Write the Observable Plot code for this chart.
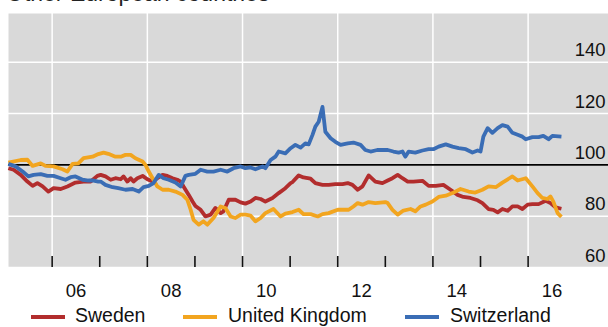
<!DOCTYPE html>
<html>
<head>
<meta charset="utf-8">
<script src="https://cdn.jsdelivr.net/npm/d3@7"></script>
<script src="https://cdn.jsdelivr.net/npm/@observablehq/plot@0.6"></script>
<style>
  html, body { margin: 0; padding: 0; background: #fff; }
  #wrap { position: relative; width: 608px; height: 327px; overflow: hidden; font-family: "Liberation Sans", Arial, sans-serif; color: #111; }
  #title { position: absolute; left: 6px; top: -18px; font-size: 23px; line-height: 23px; white-space: nowrap; color: #222; }
  #chart { position: absolute; left: 0; top: 0; }
  .lg { position: absolute; top: 304px; height: 22px; font-size: 19.5px; line-height: 22px; white-space: nowrap; }
  .sw { position: absolute; width: 34px; height: 4px; }
</style>
</head>
<body>
<div id="wrap">
  <div id="title"></div>
  <div id="chart"></div>
  <div id="legend"></div>
</div>
<script>
const titleText = "Other European countries";
const seriesNames = ["Sweden", "United Kingdom", "Switzerland"];
const seriesColors = ["#b22d2d", "#f2a51f", "#3a6db5"];
const yTicks = [60, 80, 100, 120, 140];
const yearTicks = [2006, 2007, 2008, 2009, 2010, 2011, 2012, 2013, 2014, 2015, 2016];
const gridYears = [2006, 2008, 2010, 2012, 2014, 2016];
const yearLabels = ["06", "08", "10", "12", "14", "16"];

const sweden = [
  [2005.08,98.7],[2005.19,98.1],[2005.34,96.1],[2005.48,93.5],[2005.59,91.8],[2005.69,92.9],[2005.80,91.6],[2005.92,89.6],
  [2006.03,90.9],[2006.18,90.6],[2006.32,91.6],[2006.49,93.1],[2006.66,93.5],[2006.81,93.5],[2006.95,95.7],
  [2007.02,96.1],[2007.12,95.5],[2007.23,94.2],[2007.33,94.8],[2007.44,94.4],[2007.50,95.5],[2007.58,93.5],[2007.65,94.8],[2007.71,93.5],[2007.79,94.8],[2007.90,95.7],
  [2008.00,94.4],[2008.11,93.5],[2008.21,94.8],[2008.32,96.1],[2008.42,95.7],[2008.53,94.8],[2008.63,94.2],[2008.70,93.5],[2008.76,91.6],[2008.87,88.3],[2008.95,85.7],
  [2009.01,84.0],[2009.12,82.5],[2009.22,79.9],[2009.33,80.6],[2009.43,83.2],[2009.54,81.2],[2009.60,81.9],[2009.71,86.4],[2009.85,86.4],[2009.96,85.4],
  [2010.06,84.9],[2010.17,85.7],[2010.27,87.1],[2010.38,86.7],[2010.48,85.7],[2010.63,87.1],[2010.76,89.0],[2010.90,90.9],
  [2011.01,92.9],[2011.05,93.3],[2011.18,95.9],[2011.28,95.1],[2011.43,94.6],[2011.53,92.9],[2011.68,92.2],[2011.81,92.2],[2011.95,92.5],
  [2012.10,92.5],[2012.21,92.9],[2012.31,92.2],[2012.42,90.3],[2012.52,91.6],[2012.65,95.9],[2012.79,93.5],[2012.94,92.9],
  [2013.05,93.9],[2013.15,94.8],[2013.26,96.1],[2013.36,94.8],[2013.47,93.5],[2013.59,93.5],[2013.78,93.8],[2013.91,91.8],
  [2014.06,91.8],[2014.22,92.2],[2014.37,90.3],[2014.52,88.3],[2014.64,87.5],[2014.79,87.1],[2014.94,86.2],
  [2015.04,85.1],[2015.17,82.8],[2015.27,82.5],[2015.36,81.5],[2015.46,82.8],[2015.57,82.1],[2015.67,83.8],[2015.78,83.8],[2015.88,82.8],[2015.99,84.5],
  [2016.09,84.7],[2016.22,84.7],[2016.37,86.0],[2016.47,85.1],[2016.58,83.4],[2016.70,82.9]
];

const unitedKingdom = [
  [2005.08,100.9],[2005.34,101.9],[2005.48,102.0],[2005.59,99.6],[2005.76,100.6],[2005.86,99.6],
  [2006.03,99.4],[2006.22,98.3],[2006.32,97.4],[2006.43,100.4],[2006.55,100.6],[2006.66,102.6],[2006.85,103.2],[2006.97,104.2],
  [2007.08,104.8],[2007.18,104.3],[2007.33,103.2],[2007.44,103.2],[2007.54,103.9],[2007.65,103.9],[2007.75,102.6],[2007.90,101.3],[2007.96,100.0],
  [2008.03,97.4],[2008.11,94.8],[2008.21,91.6],[2008.32,90.3],[2008.45,90.3],[2008.59,89.6],[2008.74,88.3],[2008.84,86.4],[2008.91,82.5],[2008.97,78.6],
  [2009.08,76.7],[2009.18,78.0],[2009.26,76.7],[2009.39,79.3],[2009.54,83.8],[2009.64,83.2],[2009.75,79.9],[2009.85,79.3],[2009.96,80.6],
  [2010.06,80.6],[2010.17,80.2],[2010.27,78.0],[2010.38,79.3],[2010.48,81.2],[2010.65,82.8],[2010.80,79.9],[2010.90,81.0],
  [2011.05,81.6],[2011.18,82.5],[2011.28,80.8],[2011.43,80.8],[2011.58,79.9],[2011.68,80.8],[2011.81,81.2],
  [2012.00,82.5],[2012.12,82.5],[2012.23,82.5],[2012.33,83.8],[2012.42,85.1],[2012.52,84.5],[2012.65,85.5],[2012.79,85.1],
  [2013.00,85.5],[2013.05,85.1],[2013.15,82.5],[2013.26,80.6],[2013.38,82.2],[2013.53,82.8],[2013.63,81.9],[2013.74,83.8],[2013.85,84.5],[2013.99,85.7],
  [2014.12,87.5],[2014.27,88.0],[2014.41,89.0],[2014.58,90.6],[2014.75,89.6],[2014.89,89.2],
  [2015.04,90.3],[2015.17,91.6],[2015.32,91.3],[2015.46,93.1],[2015.67,95.5],[2015.78,93.9],[2015.95,94.8],
  [2016.09,91.6],[2016.20,89.0],[2016.30,87.1],[2016.41,86.7],[2016.47,87.7],[2016.53,85.7],[2016.62,81.2],[2016.70,79.7]
];

const switzerland = [
  [2005.08,100.4],[2005.23,99.4],[2005.38,97.4],[2005.50,95.5],[2005.61,96.1],[2005.76,96.4],[2005.90,95.7],
  [2006.03,95.7],[2006.18,94.8],[2006.28,94.2],[2006.39,95.2],[2006.49,95.5],[2006.64,94.2],[2006.76,93.9],[2006.87,93.9],[2006.97,93.5],
  [2007.02,93.5],[2007.12,92.2],[2007.27,91.3],[2007.39,90.9],[2007.54,90.3],[2007.69,90.6],[2007.82,89.6],[2007.92,91.3],
  [2008.03,91.8],[2008.13,92.9],[2008.24,96.1],[2008.34,94.8],[2008.45,94.2],[2008.59,93.1],[2008.70,91.6],[2008.80,95.7],[2008.87,96.1],
  [2009.01,96.5],[2009.12,98.1],[2009.26,97.4],[2009.39,97.4],[2009.54,98.1],[2009.68,97.4],[2009.81,98.7],[2009.96,99.4],
  [2010.06,98.7],[2010.17,99.0],[2010.27,98.3],[2010.42,99.4],[2010.48,98.7],[2010.59,101.9],[2010.69,103.2],[2010.76,105.2],[2010.90,104.5],
  [2011.01,106.5],[2011.11,107.8],[2011.22,106.7],[2011.32,108.4],[2011.39,108.0],[2011.47,111.7],[2011.53,114.9],[2011.60,116.8],[2011.68,122.6],[2011.74,112.9],[2011.85,110.4],[2011.95,109.0],
  [2012.06,107.8],[2012.21,108.4],[2012.33,108.7],[2012.48,107.8],[2012.58,105.8],[2012.69,105.2],[2012.83,105.8],
  [2013.00,105.8],[2013.05,105.8],[2013.17,105.2],[2013.28,104.8],[2013.36,105.2],[2013.42,103.2],[2013.49,105.2],[2013.63,104.8],[2013.78,105.6],[2013.91,106.1],
  [2014.01,106.1],[2014.12,107.1],[2014.27,108.0],[2014.41,107.1],[2014.54,106.5],[2014.69,106.1],[2014.83,104.8],[2014.94,105.6],
  [2015.00,105.2],[2015.06,111.0],[2015.15,114.3],[2015.25,112.5],[2015.36,114.3],[2015.46,115.5],[2015.57,114.9],[2015.67,112.5],[2015.78,111.7],[2015.88,111.0],[2015.95,110.0],
  [2016.09,110.8],[2016.22,110.8],[2016.32,111.3],[2016.43,110.0],[2016.51,111.3],[2016.70,111.0]
];

const allSeries = [sweden, unitedKingdom, switzerland];
const rows = allSeries.flatMap((s, i) => s.map(([t, v]) => ({t, v, name: seriesNames[i]})));

document.getElementById("title").textContent = titleText;

const chart = Plot.plot({
  width: 608,
  height: 300,
  marginTop: 13,
  marginBottom: 33,
  marginLeft: 8,
  marginRight: 0,
  style: {fontFamily: "Liberation Sans, Arial, sans-serif", fontSize: "18.5px", color: "#111", background: "transparent"},
  x: {domain: [2005.083, 2017.689], axis: null},
  y: {domain: [60, 159], axis: null},
  color: {domain: seriesNames, range: seriesColors},
  marks: [
    Plot.frame({fill: "#d9d9d9", stroke: null}),
    Plot.ruleY(yTicks, {stroke: "white", strokeWidth: 1.5}),
    Plot.ruleX(gridYears, {stroke: "white", strokeWidth: 1.5}),
    Plot.ruleY([100], {stroke: "black", strokeWidth: 1.6}),
    Plot.line(rows, {x: "t", y: "v", z: "name", stroke: "name", strokeWidth: 3.8, strokeLinejoin: "round", strokeLinecap: "butt"}),
    Plot.tickX(yearTicks, {x: d => d, stroke: "#111", strokeWidth: 1.6, insetTop: 243}),
    Plot.text(yTicks, {y: d => d, text: d => String(d), frameAnchor: "right", textAnchor: "end", lineAnchor: "bottom", dx: -3, dy: -6, fill: "#111"}),
    Plot.text(gridYears, {x: d => d + 0.5, text: (d, i) => yearLabels[i], frameAnchor: "bottom", lineAnchor: "middle", dy: 24, fill: "#111"})
  ]
});
document.getElementById("chart").appendChild(chart);

const legend = document.getElementById("legend");
const swX = [31, 183, 405];
const txX = [75, 228, 450];
seriesNames.forEach((n, i) => {
  const sw = document.createElement("div");
  sw.className = "sw";
  sw.style.left = swX[i] + "px";
  sw.style.top = "315px";
  sw.style.background = seriesColors[i];
  legend.appendChild(sw);
  const tx = document.createElement("div");
  tx.className = "lg";
  tx.style.left = txX[i] + "px";
  tx.textContent = n;
  legend.appendChild(tx);
});
</script>
</body>
</html>
